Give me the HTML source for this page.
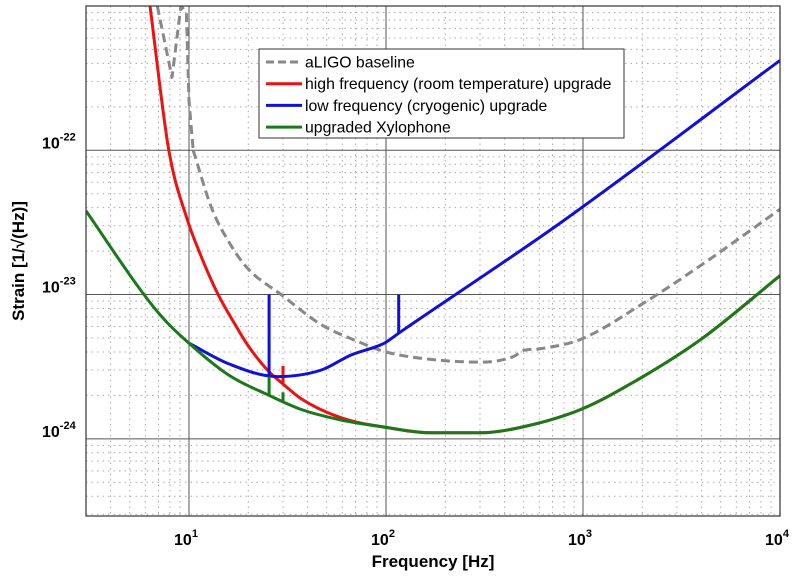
<!DOCTYPE html>
<html><head><meta charset="utf-8"><style>
body{margin:0;background:#fff;}
svg{display:block;font-family:"Liberation Sans",Arial,sans-serif;}
</style></head><body>
<svg id="chart" width="797" height="580" viewBox="0 0 797 580" xmlns="http://www.w3.org/2000/svg"></svg>
<script>
const xTicks=[1,2,3,4];
const yTicks=[-24,-23,-22];
const baseF=[10.5,13,16.3,20,29.3,46.8,70,100,169,304,440,500,600,977,1970,3980,10000];
const baseH=[1e-22,4e-23,2.2e-23,1.5e-23,1e-23,6.2e-24,4.8e-24,4e-24,3.55e-24,3.4e-24,3.7e-24,4.1e-24,4.2e-24,4.9e-24,8.5e-24,1.6e-23,3.9e-23];
const baseTopF=[6.9,8.2,9.1,9.7,10,10.5];
const baseTopH=[1e-21,3.2e-22,1e-21,9e-22,2.2e-22,1e-22];
const redF=[6.34,7.9,9.8,11,13.9,16.9,20,25,30,37,59,100,169,270,304,483,977,1970,3980,10000];
const redH=[1e-21,1e-22,3.3e-23,2.15e-23,1.03e-23,6.4e-24,4.4e-24,3e-24,2.4e-24,1.9e-24,1.4e-24,1.2e-24,1.1e-24,1.1e-24,1.1e-24,1.2e-24,1.6e-24,2.65e-24,4.9e-24,1.35e-23];
const redSpikeF=[30];
const redSpikeH=[3.2e-24];
const blueF=[10,16,28,47,66,98,116,773,10000];
const blueH=[4.6e-24,3.3e-24,2.7e-24,3e-24,3.8e-24,4.6e-24,5.4e-24,3.16e-23,4.2e-22];
const blueSpikeF=[25.5,116];
const blueSpikeH=[1e-23,1e-23];
const greenF=[3,5.9,7.5,10,16,25.5,37,59,100,169,304,483,977,1970,3980,10000];
const greenH=[3.8e-23,1e-23,6.7e-24,4.6e-24,2.75e-24,2.0e-24,1.6e-24,1.35e-24,1.2e-24,1.1e-24,1.1e-24,1.2e-24,1.6e-24,2.65e-24,4.9e-24,1.35e-23];
const greenSpikeF=[25.5,30];
const greenSpikeH=[2.7e-24,2.1e-24];
const legendLabels=["aLIGO baseline","high frequency (room temperature) upgrade","low frequency (cryogenic) upgrade","upgraded Xylophone"];

const L=86,R=780,T=6,B=516;
const xmin=Math.log10(3),xmax=4,ymin=-24.535,ymax=-21;
const X=f=>L+(Math.log10(f)-xmin)/(xmax-xmin)*(R-L);
const Y=h=>B-(Math.log10(h)-ymin)/(ymax-ymin)*(B-T);
const svg=document.getElementById('chart');
const NS='http://www.w3.org/2000/svg';
function mk(tag,attrs,parent){const e=document.createElementNS(NS,tag);for(const k in attrs)e.setAttribute(k,attrs[k]);(parent||svg).appendChild(e);return e;}

const grid=mk('g',{});


for(let d=0;d<=4;d++){for(let m=1;m<10;m++){const f=m*Math.pow(10,d);if(f<3||f>10000)continue;const x=X(f);
 if(m===1){mk('line',{x1:x,x2:x,y1:T,y2:B,stroke:'#555','stroke-width':1},grid);}
 else{mk('line',{x1:x,x2:x,y1:T,y2:B,stroke:'#aaa','stroke-width':1,'stroke-dasharray':'1.5,4'},grid);}}}
for(let d=-25;d<=-21;d++){for(let m=1;m<10;m++){const h=m*Math.pow(10,d);const lh=Math.log10(h);if(lh<ymin||lh>ymax)continue;const y=Y(h);
 if(m===1){mk('line',{x1:L,x2:R,y1:y,y2:y,stroke:'#555','stroke-width':1},grid);}
 else{mk('line',{x1:L,x2:R,y1:y,y2:y,stroke:'#aaa','stroke-width':1,'stroke-dasharray':'1.5,4'},grid);}}}

function smoothPath(F,H){
 const xs=F.map(X),ys=H.map(Y),n=xs.length;
 if(n<3)return xs.map((x,i)=>(i?'L':'M')+x.toFixed(1)+','+ys[i].toFixed(1)).join('');
 const d=[],m=[];
 for(let i=0;i<n-1;i++)d.push((ys[i+1]-ys[i])/(xs[i+1]-xs[i]));
 m[0]=d[0];m[n-1]=d[n-2];
 for(let i=1;i<n-1;i++){m[i]=(d[i-1]*d[i]<=0)?0:(d[i-1]+d[i])/2;}
 let s='M'+xs[0].toFixed(1)+','+ys[0].toFixed(1);
 for(let i=0;i<n-1;i++){const h=xs[i+1]-xs[i];
  s+='C'+(xs[i]+h/3).toFixed(1)+','+(ys[i]+m[i]*h/3).toFixed(1)+' '+(xs[i+1]-h/3).toFixed(1)+','+(ys[i+1]-m[i+1]*h/3).toFixed(1)+' '+xs[i+1].toFixed(1)+','+ys[i+1].toFixed(1);}
 return s;
}
function interp(F,H,f){const lf=Math.log10(f);for(let i=0;i<F.length-1;i++){const a=Math.log10(F[i]),b=Math.log10(F[i+1]);if(lf>=a&&lf<=b){const t=(lf-a)/(b-a);return Math.pow(10,Math.log10(H[i])*(1-t)+Math.log10(H[i+1])*t);}}return H[H.length-1];}

const clip=mk('clipPath',{id:'pc'});mk('rect',{x:L,y:T,width:R-L,height:B-T},clip);
const g=mk('g',{'clip-path':'url(#pc)'});
function seriesIn(F,H,color,name,dash,straight){
 const dd=straight?F.map((f,i)=>(i?'L':'M')+X(f).toFixed(1)+','+Y(H[i]).toFixed(1)).join(''):smoothPath(F,H);
 const p=mk('path',{d:dd,fill:'none',stroke:color,'stroke-width':3,'stroke-linejoin':'round'},g);
 if(dash)p.setAttribute('stroke-dasharray',dash);
 
 
}
function spikes(SF,SH,BF,BH,color,name){
 SF.forEach((f,i)=>{const l=mk('line',{x1:X(f),x2:X(f),y1:Y(SH[i]),y2:Y(interp(BF,BH,f)),stroke:color,'stroke-width':3},g);
 
 });
}
seriesIn(baseTopF,baseTopH,'#888','aligo-baseline-low-freq','9,5',true);
seriesIn(baseF,baseH,'#888','aligo-baseline-line','9,5');
seriesIn(redF,redH,'#ee1111','high-frequency-line');
spikes(redSpikeF,redSpikeH,redF,redH,'#ee1111','high-frequency-spike');
seriesIn(blueF,blueH,'#1010dd','low-frequency-line');
spikes(blueSpikeF,blueSpikeH,blueF,blueH,'#1010dd','low-frequency-spike');
seriesIn(greenF,greenH,'#1a7a1a','xylophone-line');
spikes(greenSpikeF,greenSpikeH,greenF,greenH,'#1a7a1a','xylophone-spike');

const frame=mk('rect',{x:L,y:T,width:R-L,height:B-T,fill:'none',stroke:'#333','stroke-width':1.2});



xTicks.forEach(p=>{const t=mk('text',{x:X(Math.pow(10,p))-3,y:545,'font-size':16,'font-weight':'bold','text-anchor':'middle'});
 
 
 t.innerHTML='10<tspan dy="-8" font-size="11">'+p+'</tspan>';});
yTicks.forEach(p=>{const t=mk('text',{x:42,y:Y(Math.pow(10,p))-2,'font-size':16,'font-weight':'bold'});
 
 
 t.innerHTML='10<tspan dy="-8" font-size="11">'+p+'</tspan>';});

const xt=mk('text',{x:433,y:567,'font-size':17,'font-weight':'bold','text-anchor':'middle'});


xt.textContent='Frequency [Hz]';
const yt=mk('text',{x:0,y:0,'font-size':17,'font-weight':'bold','text-anchor':'middle',transform:'translate(24,261) rotate(-90)'});


yt.textContent='Strain [1/\u221A(Hz)]';

const lg=mk('g',{});


mk('rect',{x:259,y:49,width:365,height:89,fill:'#fff',stroke:'#333','stroke-width':1},lg);
const lc=['#888','#ee1111','#1010dd','#1a7a1a'];
legendLabels.forEach((s,i)=>{const y=62+i*21.7;
 const ln=mk('line',{x1:266,x2:302,y1:y,y2:y,stroke:lc[i],'stroke-width':3},lg);
 if(i===0)ln.setAttribute('stroke-dasharray','8,4');
 const t=mk('text',{x:305,y:y+5.5,'font-size':15.8},lg);
 
 
 t.textContent=s;});
</script>
</body></html>
